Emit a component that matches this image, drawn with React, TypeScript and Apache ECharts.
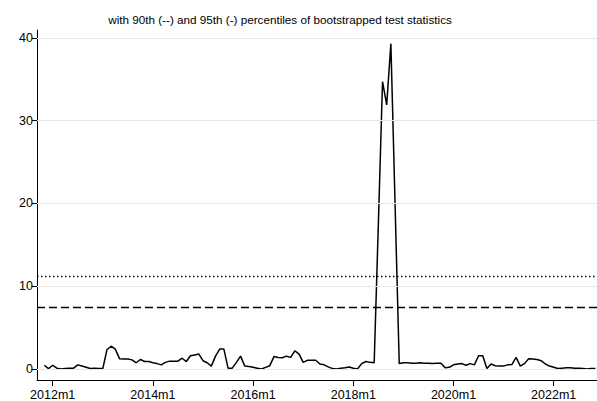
import React, { useEffect, useRef } from "react";
import * as echarts from "echarts";

// Month index 0 = 2012m1; first observation is 2011m11 (index -2)
const startIndex = -2;
const stat: number[] = [
  0.45, 0.05, 0.45, 0.1, 0.0, 0.05, 0.1, 0.1, 0.5, 0.35, 0.2, 0.05, 0.1, 0.05, 0.05,
  2.35, 2.75, 2.4, 1.25, 1.2, 1.2, 1.1, 0.75, 1.15, 0.9, 0.9, 0.75, 0.65, 0.5, 0.8,
  0.95, 0.95, 0.95, 1.3, 0.9, 1.6, 1.7, 1.8, 1.0, 0.75, 0.35, 1.55, 2.4, 2.4, 0.1,
  0.1, 0.8, 1.55, 0.35, 0.3, 0.2, 0.1, 0.0, 0.2, 0.4, 1.5, 1.4, 1.35, 1.55, 1.4,
  2.2, 1.8, 0.8, 1.05, 1.05, 1.05, 0.6, 0.5, 0.25, 0.05, 0.0, 0.1, 0.15, 0.25, 0.1,
  0.0, 0.65, 0.9, 0.8, 0.75, 17.5, 34.7, 31.9, 39.3, 20.0, 0.65, 0.75, 0.75, 0.7,
  0.7, 0.75, 0.7, 0.7, 0.65, 0.7, 0.7, 0.15, 0.2, 0.5, 0.6, 0.65, 0.45, 0.65, 0.5,
  1.6, 1.6, 0.05, 0.6, 0.4, 0.35, 0.35, 0.5, 0.55, 1.4, 0.35, 0.65, 1.25, 1.2, 1.15,
  1.0, 0.6, 0.35, 0.2, 0.05, 0.1, 0.15, 0.15, 0.1, 0.1, 0.05, 0.0, 0.05, 0.05,
];
const pct90 = 7.5; // dashed
const pct95 = 11.25; // dotted
const xTickValues = [0, 24, 48, 72, 96, 120];
const xTickLabels = ["2012m1", "2014m1", "2016m1", "2018m1", "2020m1", "2022m1"];
const yTickValues = [0, 10, 20, 30, 40];
const titleText = "with 90th (--) and 95th (-) percentiles of bootstrapped test statistics";

const FONT = "'Liberation Sans', Arial, sans-serif";

export default function App() {
  const ref = useRef<HTMLDivElement>(null);
  useEffect(() => {
    if (!ref.current) return;
    const chart = echarts.init(ref.current, undefined, { renderer: "svg" });
    const data = stat.map((v, i) => [startIndex + i, v]);
    chart.setOption({
      animation: false,
      backgroundColor: "#ffffff",
      textStyle: { fontFamily: FONT },
      graphic: [
        {
          type: "text",
          x: 280,
          y: 19,
          style: {
            text: titleText,
            fill: "#000",
            font: `11.7px ${FONT}`,
            textAlign: "center",
            textVerticalAlign: "middle",
          },
        },
      ],
      grid: { left: 37, right: 0, top: 30, bottom: 21, containLabel: false },
      xAxis: {
        type: "value",
        min: -3.76,
        max: 130.37,
        axisLine: { show: true, onZero: false, lineStyle: { color: "#000", width: 1 } },
        axisTick: {
          show: true,
          length: 6,
          customValues: xTickValues,
          lineStyle: { color: "#000", width: 1 },
        },
        axisLabel: {
          show: true,
          customValues: xTickValues,
          formatter: (v: number) => xTickLabels[xTickValues.indexOf(Math.round(v))] ?? "",
          color: "#000",
          fontSize: 12.5,
          fontFamily: FONT,
          margin: 8,
        },
        splitLine: { show: false },
      },
      yAxis: {
        type: "value",
        min: -1.33,
        max: 40.95,
        axisLine: { show: true, onZero: false, lineStyle: { color: "#000", width: 1 } },
        axisTick: {
          show: true,
          length: 5,
          customValues: yTickValues,
          lineStyle: { color: "#000", width: 1 },
        },
        axisLabel: {
          show: true,
          customValues: yTickValues,
          color: "#000",
          fontSize: 12.5,
          fontFamily: FONT,
          margin: 4,
        },
        splitLine: { show: false },
      },
      series: [
        {
          type: "line",
          data: [],
          z: 1,
          silent: true,
          markLine: {
            silent: true,
            symbol: "none",
            label: { show: false },
            lineStyle: { color: "#e6e6e6", type: "solid", width: 1 },
            data: yTickValues.map((v) => ({ yAxis: v })),
          },
        },
        {
          type: "line",
          data,
          z: 3,
          showSymbol: false,
          symbol: "none",
          lineStyle: { color: "#000", width: 1.5 },
          markLine: {
            silent: true,
            symbol: "none",
            label: { show: false },
            data: [
              { yAxis: pct95, lineStyle: { color: "#000", width: 1.4, type: [1.5, 2.5] } },
              { yAxis: pct90, lineStyle: { color: "#000", width: 1.3, type: [8, 4] } },
            ],
          },
        },
      ],
    });
    return () => chart.dispose();
  }, []);
  return (
    <div
      ref={ref}
      style={{ position: "fixed", left: 0, top: 0, width: 597, height: 401, background: "#fff" }}
    />
  );
}
